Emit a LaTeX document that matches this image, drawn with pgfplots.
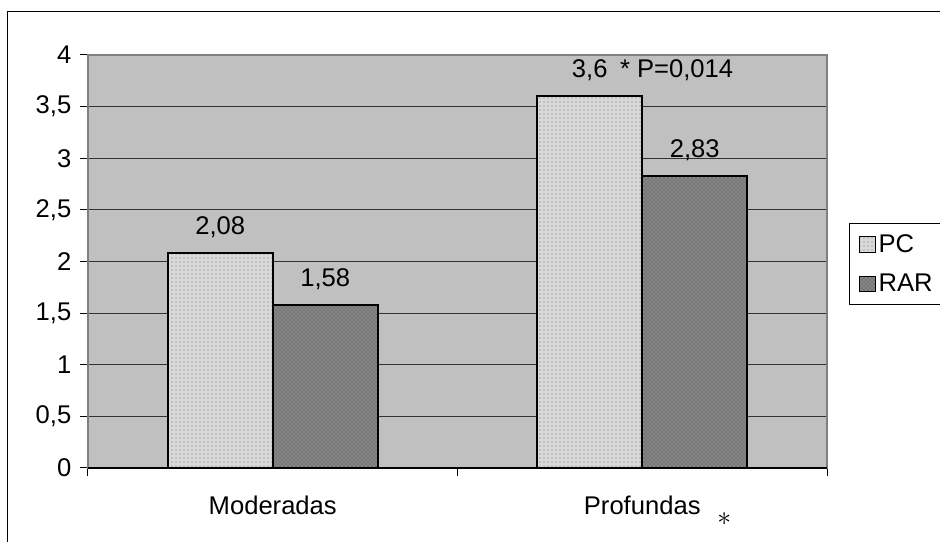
\documentclass[border=0pt]{standalone}
\usepackage{fontspec}
\setmainfont{Liberation Sans}
\usepackage{pgfplots}
\pgfplotsset{compat=1.18}
\usetikzlibrary{patterns}
\definecolor{plotbg}{HTML}{C0C0C0}
\definecolor{framegray}{HTML}{808080}
\begin{document}
\begin{tikzpicture}[font=\fontsize{19.2}{22}\selectfont]
\begin{axis}[
  at={(0,0)}, anchor=south west,
  scale only axis, width=554.25pt, height=309.75pt,
  clip mode=individual,
  ybar=0pt, bar width=0.284,
  xmin=-0.5, xmax=1.5, ymin=0, ymax=4,
  xtick pos=bottom, ytick pos=left,
  xtick={-0.5,0.5,1.5}, xticklabels={},
  extra x ticks={0,1}, extra x tick labels={Moderadas,Profundas},
  extra x tick style={major tick length=0pt, xticklabel style={yshift=-17.5pt}},
  ytick={0,0.5,...,4},
  ymajorgrids, major grid style={black!80, line width=0.75pt},
  tick align=outside, major tick length=6pt,
  tick style={black, line width=0.75pt},
  y tick label style={xshift=-3pt},
  axis background/.style={fill=plotbg},
  axis line style={framegray, line width=1.5pt},
  /pgf/number format/use comma, /pgf/number format/assume math mode=true,
  legend style={at={(1.0298,0.5932)}, anchor=north west, draw=black,
    line width=0.75pt, fill=white, row sep=11pt, inner ysep=6pt, inner xsep=7pt,
    font=\fontsize{19.2}{22}\selectfont},
  legend cell align=left,
  legend image code/.code={\draw[#1, line width=0.75pt] (0pt,-6pt) rectangle (12pt,5.5pt);},
  nodes near coords, point meta=explicit symbolic,
  nodes near coords style={anchor=base, inner sep=0pt, yshift=14pt, black},
]
\addplot[draw=black, line width=1.5pt, fill=white!85!black,
  postaction={pattern=dots, pattern color=black!55}]
  coordinates {(0,2.08) [2,08] (1,3.6) [3,6]};
\addplot[draw=black, line width=1.5pt, fill=black!47,
  postaction={pattern=crosshatch dots, pattern color=black!75}]
  coordinates {(0,1.58) [1,58] (1,2.83) [2,83]};
\legend{\makebox[45pt][l]{PC},\makebox[45pt][l]{RAR}}
\draw[black, line width=1.5pt] (rel axis cs:0,0) -- (rel axis cs:1,0);
\node[anchor=base west, inner sep=0pt, xshift=22.5pt, yshift=14pt] at (axis cs:0.858,3.6) {* P=0,014};
\node[inner sep=0pt, yshift=-38pt] at (axis cs:1.222,0) {$\ast$};
\end{axis}
% outer chart frame; page cut to the reference's extent (pixels of 0.75pt)
\begin{scope}[x=0.75pt, y=0.75pt]
\draw[black, line width=0.75pt] (-80,-80) -- (-80,456) -- (860,456);
\pgfresetboundingbox
\useasboundingbox (-88,-74) rectangle (852,468);
\end{scope}
\end{tikzpicture}
\end{document}
